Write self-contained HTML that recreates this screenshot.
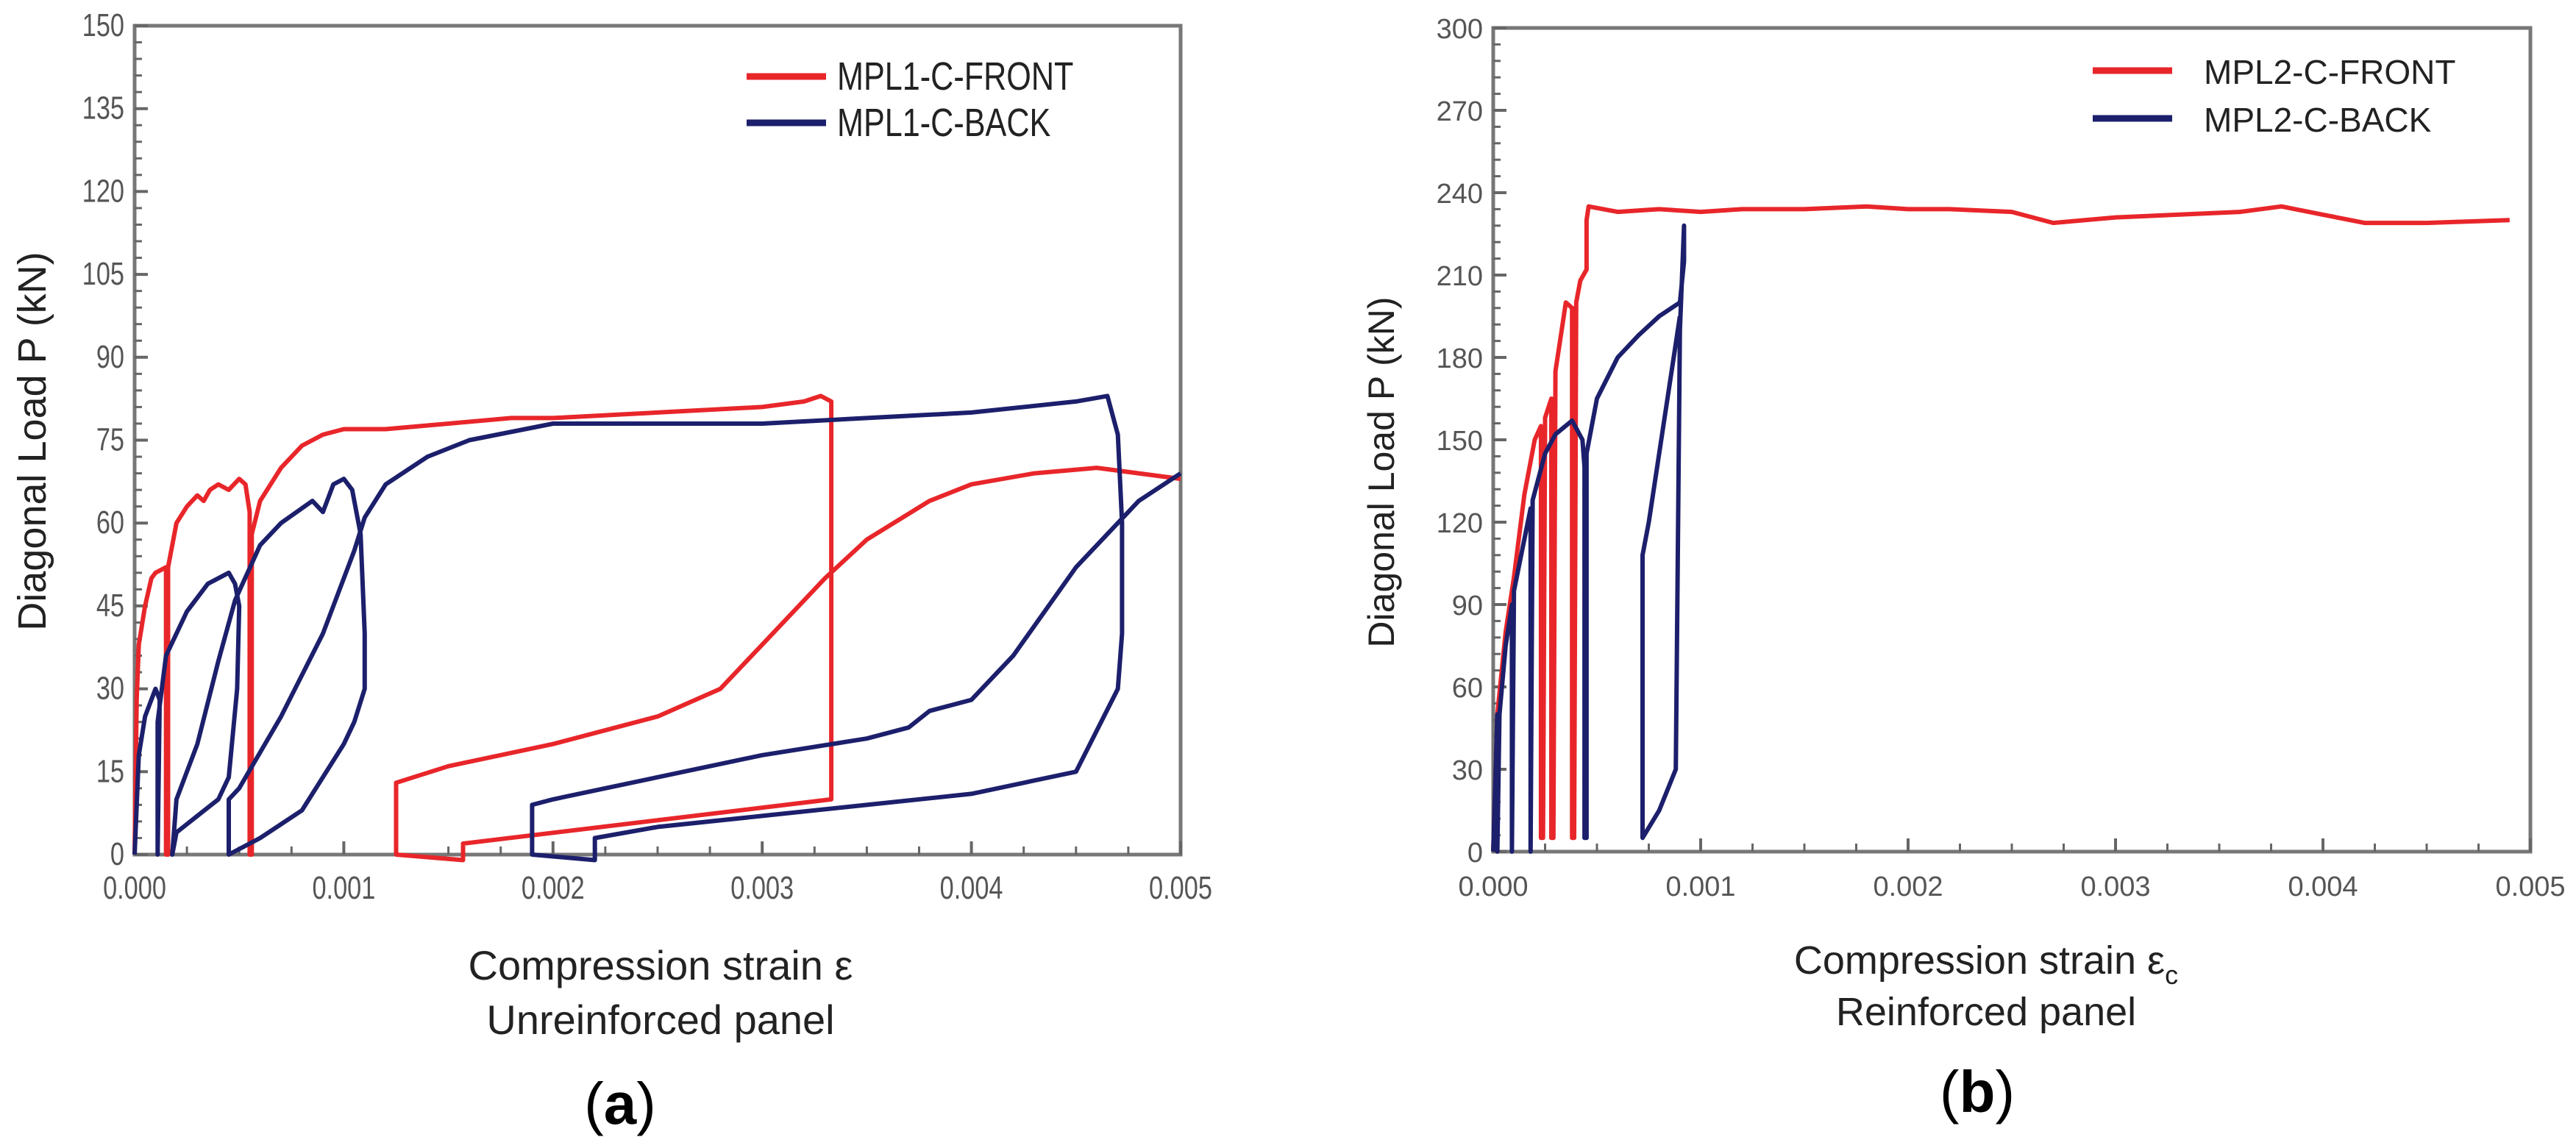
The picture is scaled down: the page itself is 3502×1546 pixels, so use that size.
<!DOCTYPE html>
<html><head><meta charset="utf-8">
<style>
html,body{margin:0;padding:0;background:#fff;}
svg{display:block;}
text{font-family:"Liberation Sans",sans-serif;}
</style></head>
<body>
<svg id="fig" width="3502" height="1546" viewBox="0 0 3502 1546" xmlns="http://www.w3.org/2000/svg">
<rect width="3502" height="1546" fill="#fff"/>
<g id="pa"></g>
<g id="pb"></g>
</svg>
<script>
// ---- Panel (a) data ----
const aXTicks = [0, 0.001, 0.002, 0.003, 0.004, 0.005];
const aXTickLabels = ["0.000","0.001","0.002","0.003","0.004","0.005"];
const aYTicks = [0,15,30,45,60,75,90,105,120,135,150];
const aFrontX = [0,0.00001,0.00002,0.00005,0.00008,0.0001,0.00015,0.00015,0.00016,0.00016,0.0002,0.00025,0.0003,0.00033,0.00036,0.0004,0.00045,0.0005,0.00053,0.00055,0.00055,0.00056,0.00056,0.0006,0.0007,0.0008,0.0009,0.001,0.0012,0.0015,0.0018,0.002,0.0025,0.003,0.0032,0.00328,0.00333,0.00333,0.00157,0.00157,0.00125,0.00125,0.0015,0.002,0.0025,0.0028,0.003,0.0033,0.0035,0.0038,0.004,0.0043,0.0046,0.0048,0.005];
const aFrontY = [0,28,38,45,50,51,52,0,0,52,60,63,65,64,66,67,66,68,67,62,0,0,58,64,70,74,76,77,77,78,79,79,80,81,82,83,82,10,2,-1,0,13,16,20,25,30,38,50,57,64,67,69,70,69,68];
const aBackX = [0,0.00002,0.00005,0.0001,0.00012,0.00011,0.00011,0.00015,0.00025,0.00035,0.00045,0.00048,0.0005,0.00049,0.00045,0.0004,0.0003,0.0002,0.00018,0.0002,0.0003,0.0004,0.00048,0.0006,0.0007,0.00085,0.0009,0.00095,0.001,0.00104,0.00108,0.0011,0.0011,0.00105,0.001,0.0008,0.0006,0.00045,0.00045,0.0005,0.0007,0.0009,0.00105,0.0011,0.0012,0.0014,0.0016,0.002,0.0025,0.003,0.0035,0.004,0.0045,0.00465,0.0047,0.00472,0.00472,0.0047,0.0045,0.004,0.0035,0.003,0.0025,0.0022,0.0022,0.0019,0.0019,0.002,0.0025,0.003,0.0035,0.0037,0.0038,0.004,0.0042,0.0045,0.0048,0.005];
const aBackY = [0,18,25,30,28,0,24,36,44,49,51,49,45,30,14,10,7,4,0,10,20,35,46,56,60,64,62,67,68,66,58,40,30,24,20,8,3,0,10,12,25,40,55,61,67,72,75,78,78,78,79,80,82,83,76,60,40,30,15,11,9,7,5,3,-1,0,9,10,14,18,21,23,26,28,36,52,64,69];
// ---- Panel (b) data ----
const bXTicks = [0, 0.001, 0.002, 0.003, 0.004, 0.005];
const bXTickLabels = ["0.000","0.001","0.002","0.003","0.004","0.005"];
const bYTicks = [0,30,60,90,120,150,180,210,240,270,300];
const bFrontX = [0,0.00002,0.00006,0.0001,0.00015,0.0002,0.00023,0.00023,0.00024,0.00025,0.00028,0.00028,0.00029,0.0003,0.00033,0.00035,0.00038,0.00038,0.00039,0.0004,0.00042,0.00045,0.00045,0.00046,0.0006,0.0008,0.001,0.0012,0.0015,0.0018,0.002,0.0022,0.0025,0.0027,0.003,0.0033,0.0036,0.0038,0.004,0.0042,0.0045,0.0049];
const bFrontY = [0,50,80,100,130,150,155,5,5,158,165,5,5,175,190,200,198,5,5,200,208,212,230,235,233,234,233,234,234,235,234,234,233,229,231,232,233,235,232,229,229,230];
const bBackX = [0,0.00002,0.00002,0.00003,0.00006,0.00009,0.00009,0.0001,0.00014,0.00018,0.00018,0.00019,0.00025,0.0003,0.00038,0.00043,0.00044,0.00044,0.00045,0.00045,0.0005,0.0006,0.0007,0.0008,0.0009,0.00092,0.00092,0.0009,0.00088,0.0008,0.00072,0.00072,0.00075,0.0008,0.0009];
const bBackY = [0,50,0,50,75,90,0,95,110,125,0,128,145,152,157,150,140,5,5,145,165,180,188,195,200,215,228,190,30,15,5,108,120,145,195];

const NS = "http://www.w3.org/2000/svg";
function el(parent, tag, attrs, txt){
  const e = document.createElementNS(NS, tag);
  for (const k in attrs) e.setAttribute(k, attrs[k]);
  if (txt !== undefined) e.textContent = txt;
  parent.appendChild(e);
  return e;
}

function drawPanel(g, cfg){
  const {x0,x1,yTop,yBot,xMax,yMax} = cfg;
  const sx = v => x0 + (v / xMax) * (x1 - x0);
  const sy = v => yBot - (v / yMax) * (yBot - yTop);
  const frame = el(g,'rect',{x:x0,y:yTop,width:x1-x0,height:yBot-yTop,fill:'none',stroke:'#777','stroke-width':5});
  
  
  const yStep = cfg.yTicks[1]-cfg.yTicks[0];
  cfg.yTicks.forEach((t,i)=>{
    const y = sy(t);
    const tk = el(g,'line',{x1:x0,x2:x0+18,y1:y,y2:y,stroke:'#666','stroke-width':4});
    
    
    const lb = el(g,'text',{x:x0-14,y:y+14,'text-anchor':'end','font-size':cfg.tickFont,fill:'#555',transform:cfg.condensed?`translate(${x0-14} 0) scale(0.78 1) translate(${-(x0-14)} 0)`:''}, String(t));
    
    
    if (i < cfg.yTicks.length-1){
      for (let m=1;m<5;m++){
        const ym = sy(t + yStep*m/5);
        const mk = el(g,'line',{x1:x0,x2:x0+10,y1:ym,y2:ym,stroke:'#666','stroke-width':3});
        
        
      }
    }
  });
  const xStep = cfg.xTicks[1]-cfg.xTicks[0];
  cfg.xTicks.forEach((t,i)=>{
    const x = sx(t);
    const tk = el(g,'line',{x1:x,x2:x,y1:yBot,y2:yBot-18,stroke:'#666','stroke-width':4});
    
    
    const lb = el(g,'text',{x:x,y:yBot+60,'text-anchor':'middle','font-size':cfg.tickFont,fill:'#555',transform:cfg.condensed?`translate(${x} 0) scale(0.78 1) translate(${-x} 0)`:''}, cfg.xTickLabels[i]);
    
    
    if (i < cfg.xTicks.length-1){
      for (let m=1;m<4;m++){
        const xm = sx(t + xStep*m/4);
        const mk = el(g,'line',{x1:xm,x2:xm,y1:yBot,y2:yBot-11,stroke:'#666','stroke-width':3});
        
        
      }
    }
  });
  cfg.series.forEach(s=>{
    const d = s.xs.map((v,i)=>(i?'L':'M')+sx(v).toFixed(1)+','+sy(s.ys[i]).toFixed(1)).join(' ');
    const p = el(g,'path',{d:d,fill:'none',stroke:s.color,'stroke-width':6,'stroke-linejoin':'round'});
    
    
  });
  cfg.series.forEach((s,i)=>{
    const ly = cfg.legY[i];
    const ln = el(g,'line',{x1:cfg.legX,x2:cfg.legX+108,y1:ly,y2:ly,stroke:s.color,'stroke-width':9});
    
    
    const tx = el(g,'text',{x:cfg.legTextX,y:ly+18,'font-size':cfg.legFont,fill:'#222',transform:cfg.condensed?`translate(${cfg.legTextX} 0) scale(0.8 1) translate(${-cfg.legTextX} 0)`:''}, s.label);
    
    
  });
}

drawPanel(document.getElementById('pa'), {
  x0:183, x1:1605, yTop:35, yBot:1162, xMax:0.005, yMax:150,
  xTicks:aXTicks, xTickLabels:aXTickLabels, yTicks:aYTicks, tickFont:44, condensed:true,
  legX:1015, legY:[104,167], legTextX:1138, legFont:54,
  series:[
    {name:'series-mpl1-c-front', label:'MPL1-C-FRONT', color:'#e8262a', xs:aFrontX, ys:aFrontY},
    {name:'series-mpl1-c-back', label:'MPL1-C-BACK', color:'#1c1f6b', xs:aBackX, ys:aBackY}
  ]
});
drawPanel(document.getElementById('pb'), {
  x0:2030, x1:3440, yTop:38, yBot:1158, xMax:0.005, yMax:300,
  xTicks:bXTicks, xTickLabels:bXTickLabels, yTicks:bYTicks, tickFont:38, condensed:false,
  legX:2845, legY:[96,161], legTextX:2996, legFont:46,
  series:[
    {name:'series-mpl2-c-front', label:'MPL2-C-FRONT', color:'#e8262a', xs:bFrontX, ys:bFrontY},
    {name:'series-mpl2-c-back', label:'MPL2-C-BACK', color:'#1c1f6b', xs:bBackX, ys:bBackY}
  ]
});
</script>
<div style="position:absolute;left:0;top:0;width:3502px;height:1546px;pointer-events:none;">
  <svg width="3502" height="1546" style="position:absolute;left:0;top:0">
    <text transform="translate(62 600) rotate(-90)" text-anchor="middle" font-size="54" fill="#222" font-family="Liberation Sans, sans-serif">Diagonal Load P (kN)</text>
    <text x="898" y="1332" text-anchor="middle" font-size="56" fill="#222" font-family="Liberation Sans, sans-serif">Compression strain ε</text>
    <text x="898" y="1406" text-anchor="middle" font-size="56" fill="#222" font-family="Liberation Sans, sans-serif">Unreinforced panel</text>
    <text x="843" y="1528" text-anchor="middle" font-size="80" fill="#000" font-family="Liberation Serif, serif">(<tspan font-weight="bold">a</tspan>)</text>
    <text transform="translate(1895 642) rotate(-90)" text-anchor="middle" font-size="50" fill="#222" font-family="Liberation Sans, sans-serif">Diagonal Load P (kN)</text>
    <text x="2700" y="1324" text-anchor="middle" font-size="54" fill="#222" font-family="Liberation Sans, sans-serif">Compression strain ε<tspan font-size="36" dy="14">c</tspan></text>
    <text x="2700" y="1394" text-anchor="middle" font-size="54" fill="#222" font-family="Liberation Sans, sans-serif">Reinforced panel</text>
    <text x="2688" y="1512" text-anchor="middle" font-size="80" fill="#000" font-family="Liberation Serif, serif">(<tspan font-weight="bold">b</tspan>)</text>
  </svg>
</div>
</body></html>
